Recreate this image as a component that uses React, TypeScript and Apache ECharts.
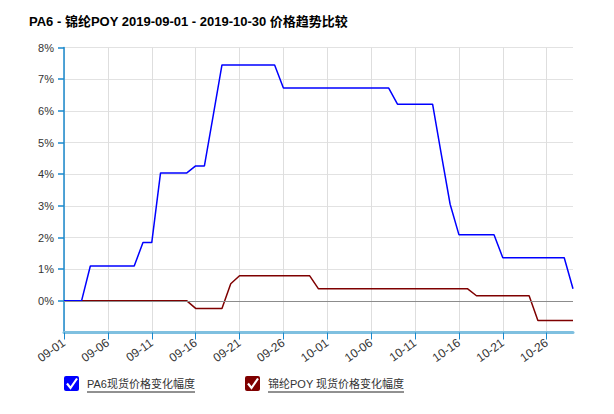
import { useEffect, useRef } from 'react';
import * as echarts from 'echarts';

const FONT = 'Arial, "Liberation Sans", "Noto Sans CJK SC", sans-serif';

const titleText = 'PA6 - 锦纶POY 2019-09-01 - 2019-10-30 价格趋势比较';
const seriesNames = ['PA6现货价格变化幅度', '锦纶POY 现货价格变化幅度'];
const seriesColors = ['#0000ff', '#7f0000'];

const dates = [
  '09-01', '09-02', '09-03', '09-04', '09-05', '09-06', '09-07', '09-08', '09-09', '09-10',
  '09-11', '09-12', '09-13', '09-14', '09-15', '09-16', '09-17', '09-18', '09-19', '09-20',
  '09-21', '09-22', '09-23', '09-24', '09-25', '09-26', '09-27', '09-28', '09-29', '09-30',
  '10-01', '10-02', '10-03', '10-04', '10-05', '10-06', '10-07', '10-08', '10-09', '10-10',
  '10-11', '10-12', '10-13', '10-14', '10-15', '10-16', '10-17', '10-18', '10-19', '10-20',
  '10-21', '10-22', '10-23', '10-24', '10-25', '10-26', '10-27', '10-28', '10-29',
];

// PA6 spot price change (%)
const pa6Change = [
  0, 0, 0, 1.1, 1.1, 1.1, 1.1, 1.1, 1.1, 1.84,
  1.84, 4.04, 4.04, 4.04, 4.04, 4.26, 4.26, 5.85, 7.45, 7.45,
  7.45, 7.45, 7.45, 7.45, 7.45, 6.72, 6.72, 6.72, 6.72, 6.72,
  6.72, 6.72, 6.72, 6.72, 6.72, 6.72, 6.72, 6.72, 6.21, 6.21,
  6.21, 6.21, 6.21, 4.62, 3.05, 2.09, 2.09, 2.09, 2.09, 2.09,
  1.36, 1.36, 1.36, 1.36, 1.36, 1.36, 1.36, 1.36, 0.38,
];

// 锦纶POY spot price change (%)
const poyChange = [
  0, 0, 0, 0, 0, 0, 0, 0, 0, 0,
  0, 0, 0, 0, 0, -0.24, -0.24, -0.24, -0.24, 0.54,
  0.79, 0.79, 0.79, 0.79, 0.79, 0.79, 0.79, 0.79, 0.79, 0.38,
  0.38, 0.38, 0.38, 0.38, 0.38, 0.38, 0.38, 0.38, 0.38, 0.38,
  0.38, 0.38, 0.38, 0.38, 0.38, 0.38, 0.38, 0.16, 0.16, 0.16,
  0.16, 0.16, 0.16, 0.16, -0.62, -0.62, -0.62, -0.62, -0.62,
];

const yMin = -1;
const yMax = 8;

// checkbox-style legend item drawn with graphic elements
function legendItem(x: number, y: number, color: string, text: string, underline: number) {
  return {
    type: 'group',
    left: x,
    top: y,
    children: [
      { type: 'rect', shape: { x: 0, y: 0, width: 15, height: 15, r: 2 }, style: { fill: color } },
      {
        type: 'polyline',
        shape: { points: [[3, 7.5], [6.5, 12], [13, 2.5]] },
        style: { stroke: '#fff', lineWidth: 2.2, fill: null },
      },
      {
        type: 'text',
        x: 23,
        y: 8,
        style: { text, fill: '#333', font: `11px ${FONT}`, verticalAlign: 'middle' },
      },
      {
        type: 'line',
        shape: { x1: 23, y1: 16, x2: 23 + underline, y2: 16 },
        style: { stroke: '#222', lineWidth: 1 },
      },
    ],
  };
}

export default function App() {
  const chartRef = useRef<HTMLDivElement>(null);

  useEffect(() => {
    if (!chartRef.current) return;
    document.body.style.margin = '0';

    const chart = echarts.init(chartRef.current, null, { renderer: 'svg' });

    chart.setOption({
      animation: false,
      backgroundColor: '#fff',
      textStyle: { fontFamily: FONT },
      title: {
        text: titleText,
        left: 29,
        top: 15,
        padding: 0,
        textStyle: { fontSize: 13, fontWeight: 'bold', color: '#000', fontFamily: FONT },
      },
      grid: { left: 64, right: 41, top: 47.5, bottom: 81.5 },
      xAxis: {
        type: 'category',
        data: dates,
        boundaryGap: false,
        axisLine: { onZero: false, lineStyle: { color: '#7fc0e0', width: 3 } },
        axisTick: { interval: 4, length: 7, lineStyle: { color: '#1a88cc' } },
        axisLabel: {
          interval: 4,
          rotate: 35,
          color: '#333',
          fontSize: 12,
          fontFamily: FONT,
          margin: 9,
        },
        splitLine: { show: true, interval: 4, lineStyle: { color: '#dedede' } },
      },
      yAxis: {
        type: 'value',
        min: yMin,
        max: yMax,
        interval: 1,
        axisLine: { show: true, lineStyle: { color: '#1a88cc', width: 1.5 } },
        axisTick: { show: true, length: 6, lineStyle: { color: '#1a88cc', width: 1.5 } },
        axisLabel: {
          showMinLabel: false,
          formatter: (v: number) => `${v}%`,
          color: '#333',
          fontSize: 11,
          fontFamily: FONT,
          margin: 10,
        },
        splitLine: { show: true, lineStyle: { color: '#e2e2e2' } },
      },
      series: [
        {
          type: 'line',
          name: 'zero',
          data: [],
          silent: true,
          z: 1,
          markLine: {
            silent: true,
            symbol: 'none',
            label: { show: false },
            lineStyle: { color: '#8c8c8c', type: 'solid', width: 1 },
            data: [{ yAxis: 0 }],
          },
        },
        {
          type: 'line',
          name: seriesNames[1],
          data: poyChange,
          showSymbol: false,
          z: 2,
          lineStyle: { color: seriesColors[1], width: 1.5 },
          itemStyle: { color: seriesColors[1] },
        },
        {
          type: 'line',
          name: seriesNames[0],
          data: pa6Change,
          showSymbol: false,
          z: 3,
          lineStyle: { color: seriesColors[0], width: 1.5 },
          itemStyle: { color: seriesColors[0] },
        },
      ],
      graphic: [
        legendItem(64, 376, seriesColors[0], seriesNames[0], 108),
        legendItem(245, 376, seriesColors[1], seriesNames[1], 136),
      ],
    });

    return () => {
      chart.dispose();
    };
  }, []);

  return <div ref={chartRef} style={{ width: 614, height: 414 }} />;
}
